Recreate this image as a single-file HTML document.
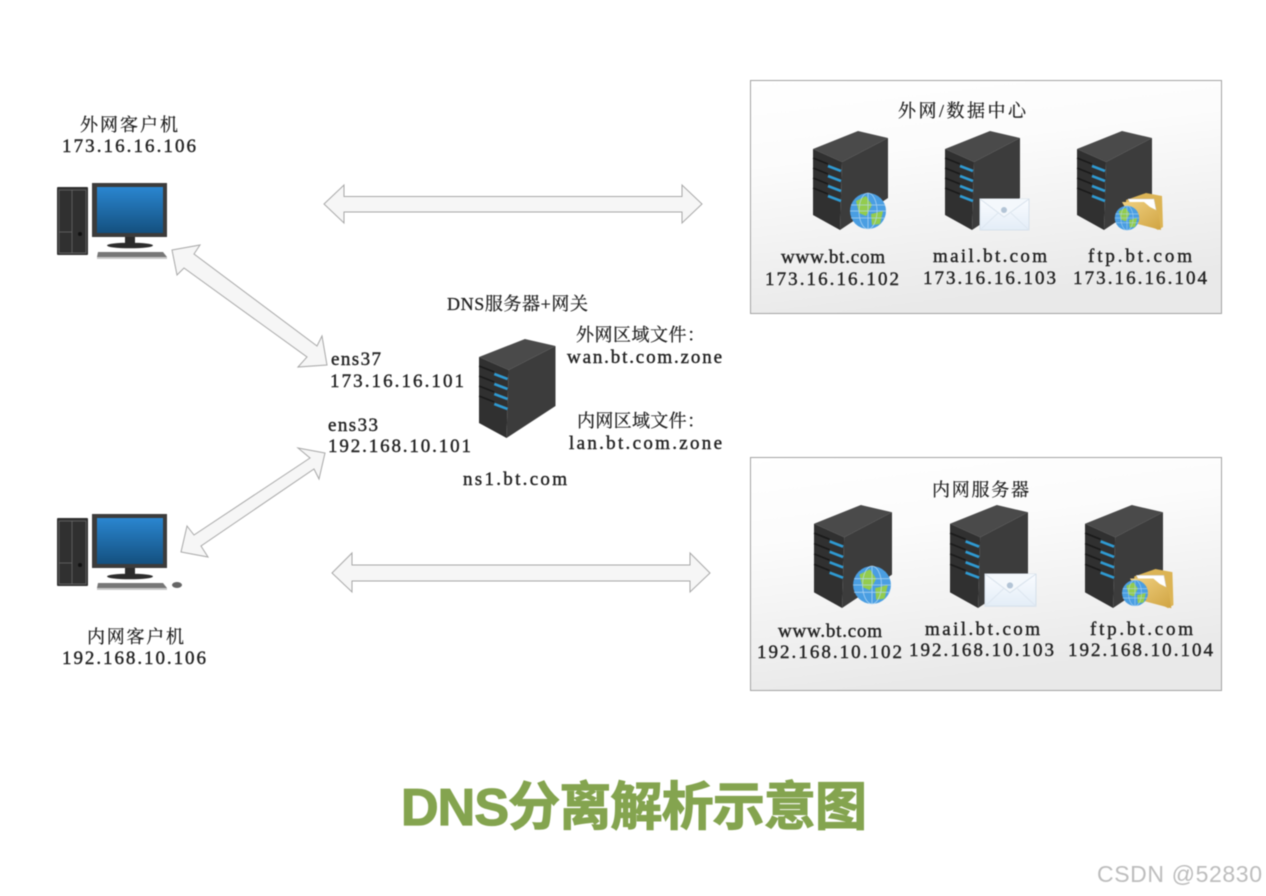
<!DOCTYPE html>
<html>
<head>
<meta charset="utf-8">
<style>
html,body{margin:0;padding:0;background:#fff;width:1266px;height:896px;overflow:hidden}
svg{display:block;filter:blur(.45px)}
.t{font-family:"Liberation Serif","Noto Serif CJK SC",serif;font-size:19px;fill:#222;stroke:#222;stroke-width:.4}
.c{font-family:"Liberation Serif","Noto Serif CJK SC",serif;font-size:18px;fill:#222;stroke:#222;stroke-width:.25}
</style>
</head>
<body>
<svg width="1266" height="896" viewBox="0 0 1266 896" xmlns="http://www.w3.org/2000/svg">
<defs>
<linearGradient id="pan" x1="0" y1="0" x2=".25" y2="1">
<stop offset="0" stop-color="#ffffff"/><stop offset=".35" stop-color="#fcfcfc"/><stop offset="1" stop-color="#e9e9e9"/>
</linearGradient>
<linearGradient id="scr" x1="0" y1="0" x2="0" y2="1">
<stop offset="0" stop-color="#2a86d0"/><stop offset="1" stop-color="#14507f"/>
</linearGradient>
<linearGradient id="mail" x1="0" y1="0" x2="0" y2="1">
<stop offset="0" stop-color="#fafcff"/><stop offset="1" stop-color="#e3edf7"/>
</linearGradient>
<linearGradient id="fold" x1="0" y1="0" x2="1" y2="1">
<stop offset="0" stop-color="#f0d080"/><stop offset="1" stop-color="#d0a442"/>
</linearGradient>
<g id="srv">
<polygon points="0,18 45,0 75,7 29,31" fill="#4a4a4a"/>
<polygon points="29,31 75,7 75,67 27,99" fill="#3c3c3c"/>
<polygon points="0,18 29,31 27,99 0,84" fill="#303030"/>
<g stroke="#1a1a1a" stroke-width="1.6">
<line x1="0" y1="27" x2="15" y2="33"/><line x1="0" y1="37" x2="15" y2="43"/>
<line x1="0" y1="47" x2="15" y2="53"/><line x1="0" y1="57" x2="15" y2="63"/>
</g>
<g stroke="#2f9ad2" stroke-width="2.6">
<line x1="15" y1="35" x2="28" y2="40"/><line x1="15" y1="45" x2="28" y2="50"/>
<line x1="15" y1="55" x2="28" y2="60"/><line x1="15" y1="65" x2="28" y2="70"/>
</g>
</g>
<g id="globe">
<circle cx="0" cy="0" r="18" fill="#4a9ee2"/>
<path d="M-12,-10 L-2,-15 L4,-6 L-2,5 L-9,2 Z M3,3 L15,0 L12,13 L4,14 Z" fill="#93cc4e"/>
<g stroke="#b6daf5" stroke-width=".8" fill="none" opacity=".85">
<ellipse cx="0" cy="0" rx="9" ry="18"/><line x1="0" y1="-18" x2="0" y2="18"/>
<line x1="-17" y1="-6" x2="17" y2="-6"/><line x1="-18" y1="0" x2="18" y2="0"/><line x1="-17" y1="7" x2="17" y2="7"/>
</g>
</g>
<g id="mailicon">
<rect x="0" y="0" width="49" height="31" fill="url(#mail)" stroke="#d6e0ea" stroke-width="1"/>
<path d="M0,0 L24,18 L49,0" fill="#f4f8fc" stroke="#d8e2ec" stroke-width="1"/>
<path d="M0,31 L18,14 M49,31 L31,14" stroke="#dde6f0" stroke-width="1" fill="none"/>
<circle cx="24" cy="11" r="3" fill="#b3c4d6"/>
</g>
<g id="folder">
<polygon points="4,7 24,0 40,3 41,34 36,37 4,20" fill="#dcb455"/>
<polygon points="6,6 32,6 37,32 14,22" fill="#fff" stroke="#ccc" stroke-width=".5"/>
<polygon points="0,9 22,9 28,14 36,18 39,37 12,30" fill="url(#fold)"/>
</g>
<g id="pc">
<rect x="0" y="4" width="31" height="68" rx="1" fill="#303030"/>
<g stroke="#6f6f6f" stroke-width=".7" fill="none"><rect x="2" y="7" width="27" height="63"/><line x1="15" y1="7" x2="15" y2="70"/><line x1="2" y1="49" x2="15" y2="49"/></g>
<circle cx="23" cy="51" r="2" fill="#111"/>
<rect x="35" y="0" width="75" height="54" fill="#3c3c3c"/>
<rect x="40" y="4" width="66" height="46" fill="url(#scr)"/>
<rect x="68" y="54" width="10" height="7" fill="#2c2c2c"/>
<ellipse cx="73" cy="62.5" rx="23" ry="2.8" fill="#2c2c2c"/>
<polygon points="41,69 106,69 110,74 40,74" fill="#777"/>
<rect x="40" y="74" width="70" height="2" fill="#c8c8c8"/>
</g>
</defs>

<rect width="1266" height="896" fill="#fff"/>

<rect x="750.5" y="80.5" width="471" height="233" fill="url(#pan)" stroke="#a3a3a3"/>
<rect x="750.5" y="457.5" width="471" height="233" fill="url(#pan)" stroke="#a3a3a3"/>

<!-- block arrows -->
<g fill="#f6f6f6" stroke="#a8a8a8" stroke-width="1">
<polygon points="324,204 344,185 344,196.5 682,196.5 682,185 702,204 682,223 682,212 344,212 344,223"/>
<polygon points="332,573 352,553 352,565 690,565 690,553 710,573 690,592 690,581 352,581 352,592"/>
<polygon points="172,250 200,245 194,254 317,346 322,336 327,365 298,367 307,357 184,268 177,275"/>
<polygon points="325,453 298,448 310,458 194,535 187,526 181,552 208,557 201,546 314,469 319,479"/>
</g>

<!-- computers -->
<use href="#pc" x="57" y="183"/>
<use href="#pc" x="57" y="514"/>
<ellipse cx="177" cy="585" rx="5" ry="3" fill="#666"/>

<!-- servers -->
<use href="#srv" x="813" y="131"/>
<use href="#srv" x="945" y="131"/>
<use href="#srv" x="1077" y="131"/>
<use href="#srv" transform="translate(479,339) scale(1.02,1)"/>
<use href="#srv" transform="translate(814,505) scale(1.04)"/>
<use href="#srv" transform="translate(950,505) scale(1.04)"/>
<use href="#srv" transform="translate(1085,505) scale(1.04)"/>

<use href="#globe" x="868" y="211"/>
<use href="#mailicon" x="980" y="199"/>
<use href="#folder" x="1122" y="193"/>
<use href="#globe" transform="translate(1127,218) scale(.68)"/>
<use href="#globe" transform="translate(872,585) scale(1.05)"/>
<use href="#mailicon" transform="translate(985,574) scale(1.04)"/>
<use href="#folder" transform="translate(1130,569) scale(1.06)"/>
<use href="#globe" transform="translate(1135,593) scale(.72)"/>

<!-- labels -->
<g>
<text class="c" x="80" y="131" textLength="98" lengthAdjust="spacing">外网客户机</text>
<text class="t" x="62" y="152" textLength="134" lengthAdjust="spacing">173.16.16.106</text>
<text class="c" x="87" y="643" textLength="97" lengthAdjust="spacing">内网客户机</text>
<text class="t" x="62" y="664" textLength="144" lengthAdjust="spacing">192.168.10.106</text>

<text class="c" x="898" y="117" textLength="128" lengthAdjust="spacing">外网/数据中心</text>
<text class="t" x="781" y="263" textLength="104" lengthAdjust="spacing">www.bt.com</text>
<text class="t" x="765" y="285" textLength="134" lengthAdjust="spacing">173.16.16.102</text>
<text class="t" x="933" y="262" textLength="114" lengthAdjust="spacing">mail.bt.com</text>
<text class="t" x="923" y="284" textLength="133" lengthAdjust="spacing">173.16.16.103</text>
<text class="t" x="1088" y="262" textLength="104" lengthAdjust="spacing">ftp.bt.com</text>
<text class="t" x="1073" y="284" textLength="134" lengthAdjust="spacing">173.16.16.104</text>

<text class="c" x="447" y="310" textLength="141" lengthAdjust="spacing">DNS服务器+网关</text>
<text class="c" x="576" y="341" textLength="129" lengthAdjust="spacing">外网区域文件：</text>
<text class="t" x="567" y="363" textLength="155" lengthAdjust="spacing">wan.bt.com.zone</text>
<text class="c" x="577" y="427" textLength="128" lengthAdjust="spacing">内网区域文件：</text>
<text class="t" x="569" y="449" textLength="153" lengthAdjust="spacing">lan.bt.com.zone</text>
<text class="t" x="331" y="365" textLength="50" lengthAdjust="spacing">ens37</text>
<text class="t" x="330" y="387" textLength="134" lengthAdjust="spacing">173.16.16.101</text>
<text class="t" x="328" y="431" textLength="50" lengthAdjust="spacing">ens33</text>
<text class="t" x="328" y="452" textLength="143" lengthAdjust="spacing">192.168.10.101</text>
<text class="t" x="463" y="485" textLength="104" lengthAdjust="spacing">ns1.bt.com</text>

<text class="c" x="932" y="496" textLength="97" lengthAdjust="spacing">内网服务器</text>
<text class="t" x="778" y="637" textLength="104" lengthAdjust="spacing">www.bt.com</text>
<text class="t" x="757" y="658" textLength="145" lengthAdjust="spacing">192.168.10.102</text>
<text class="t" x="925" y="635" textLength="115" lengthAdjust="spacing">mail.bt.com</text>
<text class="t" x="909" y="656" textLength="145" lengthAdjust="spacing">192.168.10.103</text>
<text class="t" x="1090" y="635" textLength="103" lengthAdjust="spacing">ftp.bt.com</text>
<text class="t" x="1068" y="656" textLength="145" lengthAdjust="spacing">192.168.10.104</text>
</g>

<text x="401" y="825" textLength="466" lengthAdjust="spacing" style="font-family:'Liberation Sans','Noto Sans CJK SC',sans-serif;font-size:52px;font-weight:700;fill:#84a44f;stroke:#84a44f;stroke-width:1.2">DNS分离解析示意图</text>
<text x="1097" y="882" textLength="165" lengthAdjust="spacing" style="font-family:'Liberation Sans',sans-serif;font-size:23px;fill:#bdbdbd">CSDN @52830</text>
</svg>
</body>
</html>
